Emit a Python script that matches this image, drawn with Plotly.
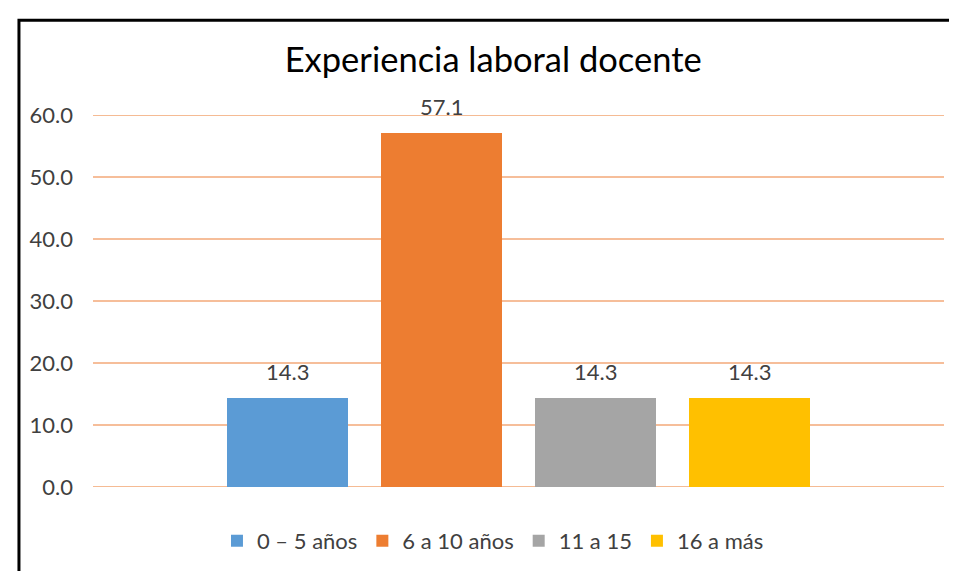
import plotly.graph_objects as go

categories = ["0 – 5 años", "6 a 10 años", "11 a 15", "16 a más"]
values = [14.3, 57.1, 14.3, 14.3]
colors = ["#5B9BD5", "#ED7D31", "#A5A5A5", "#FFC000"]
y_ticks = [0, 10, 20, 30, 40, 50, 60]
y_tick_labels = [f"{v:.1f}" for v in y_ticks]

FONT = "Lato, Calibri, Arial, sans-serif"

fig = go.Figure()
for i, (cat, val, col) in enumerate(zip(categories, values, colors)):
    fig.add_trace(go.Bar(
        x=[i], y=[val], name=cat, width=0.786,
        marker=dict(color=col, line=dict(width=0)),
        hoverinfo="skip",
    ))
    fig.add_annotation(
        x=i, y=val, text=f"{val:.1f}", showarrow=False,
        yanchor="bottom", yshift=11,
        font=dict(family=FONT, size=22, color="#404040"),
    )

# horizontal gridlines at the tick values
for v in y_ticks:
    edge = v in (y_ticks[0], y_ticks[-1])
    fig.add_shape(type="line", xref="paper", yref="y", x0=0, x1=1, y0=v, y1=v,
                  line=dict(color="#F2A571" if edge else "#EE7F36", width=1.5 if edge else 1.2),
                  layer="below")

fig.update_layout(
    width=957, height=571,
    paper_bgcolor="white", plot_bgcolor="white",
    margin=dict(l=85, r=21, t=107, b=92),
    title=dict(text="Experiencia laboral docente", x=0.507, xanchor="center",
               y=0.909, yanchor="middle",
               font=dict(family=FONT, size=34.5, color="#000000")),
    showlegend=True,
    legend=dict(orientation="h", x=0.47, xanchor="center", y=-0.145, yanchor="middle",
                font=dict(family=FONT, size=22, color="#404040"),
                itemwidth=30, traceorder="normal"),
    xaxis=dict(range=[-1.263, 4.263], showticklabels=False, showgrid=False,
               zeroline=False, showline=False, fixedrange=True),
    yaxis=dict(range=[0, 60], tickvals=y_ticks, ticktext=y_tick_labels,
               showgrid=False, zeroline=False,
               showline=False, ticks="", ticklabelstandoff=19,
               tickfont=dict(family=FONT, size=22, color="#404040")),
    bargap=0, barmode="overlay",
)

fig.add_shape(type="rect", xref="paper", yref="paper",
              x0=-0.0870, x1=1.2, y0=-0.5, y1=1.255,
              line=dict(color="black", width=3), fillcolor="rgba(0,0,0,0)", layer="above")

fig.write_html("out.html")
